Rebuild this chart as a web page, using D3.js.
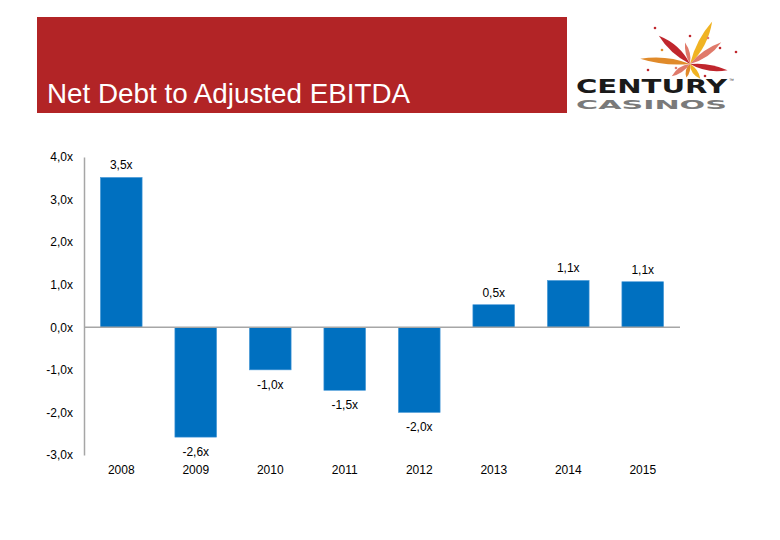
<!DOCTYPE html>
<html><head><meta charset="utf-8">
<script src="https://cdn.jsdelivr.net/npm/d3@7"></script>
<style>body{margin:0;background:#fff}svg{display:block;font-family:"Liberation Sans",Arial,sans-serif}</style>
</head><body><svg id="c" width="780" height="540"></svg>
<script>
const categories = ["2008","2009","2010","2011","2012","2013","2014","2015"];
const values = [3.52, -2.58, -1.0, -1.48, -2.0, 0.53, 1.1, 1.07];
const valueLabels = ["3,5x","-2,6x","-1,0x","-1,5x","-2,0x","0,5x","1,1x","1,1x"];
const tickValues = [4, 3, 2, 1, 0, -1, -2, -3];
const tickLabels = ["4,0x","3,0x","2,0x","1,0x","0,0x","-1,0x","-2,0x","-3,0x"];
const title = "Net Debt to Adjusted EBITDA";

const svg = d3.select("#c");
// header
svg.append("rect").attr("x",37).attr("y",17).attr("width",530).attr("height",96).attr("fill","#B22426");
svg.append("text").attr("x",47).attr("y",103).attr("fill","#fff").attr("font-size",27.8).text(title);

// logo
const logo = svg.append("g");
const cx = 690, cy = 64;
const strokes = [
  {a:-135,len:42,w:7,c:"#C0262D"},
  {a:-60,len:48,w:7,c:"#F0B323"},
  {a:-172,len:50,w:6,c:"#E08A2A"},
  {a:-32,len:38,w:6,c:"#E07A6A"},
  {a:12,len:38,w:6,c:"#C0262D"},
  {a:-100,len:22,w:4,c:"#E07A6A"},
  {a:150,len:22,w:5,c:"#E07A6A"},
  {a:60,len:18,w:5,c:"#F0B323"},
  {a:110,len:14,w:4,c:"#E08A2A"}
];
strokes.forEach(s=>{
  const L=s.len, w=s.w;
  const p = `M0,0 Q${L*0.5},${-w} ${L},${-w*0.3} Q${L*0.5},${w} 0,0 Z`;
  logo.append("path").attr("d",p).attr("fill",s.c)
    .attr("transform",`translate(${cx},${cy}) rotate(${s.a})`);
});
[[655,28,"#C0262D"],[708,38,"#E07A6A"],[720,48,"#C0262D"],[662,50,"#E08A2A"],[736,52,"#C0262D"],[690,36,"#C0262D"],[648,70,"#C0262D"],[676,68,"#E07A6A"],[705,76,"#C0262D"]].forEach(d=>{
  logo.append("circle").attr("cx",d[0]).attr("cy",d[1]).attr("r",1.3).attr("fill",d[2]);
});
logo.append("text").attr("x",576).attr("y",93).attr("font-size",19).attr("font-weight","bold")
  .attr("fill","#1a1a1a").attr("textLength",151).attr("lengthAdjust","spacingAndGlyphs").attr("font-family","'DejaVu Sans',sans-serif").text("CENTURY");
logo.append("text").attr("x",729).attr("y",82).attr("font-size",5).attr("fill","#333").text("™");
logo.append("text").attr("x",576).attr("y",109).attr("font-size",13).attr("font-weight","bold")
  .attr("fill","#7a7a7a").attr("textLength",151).attr("lengthAdjust","spacingAndGlyphs").attr("font-family","'DejaVu Sans',sans-serif").text("CASINOS");

// chart
const x = d3.scaleBand().domain(categories).range([84,680]).paddingInner(0.44).paddingOuter(0.22);
const y = d3.scaleLinear().domain([-3,4]).range([455,157]);

const axisColor = "#A6A6A6";
const yAxis = svg.append("g").attr("transform","translate(84,0)")
  .call(d3.axisLeft(y).tickValues(tickValues).tickSize(0).tickFormat((d,i)=>tickLabels[i]));
yAxis.select(".domain").attr("stroke",axisColor).attr("stroke-width",1.5);
yAxis.selectAll("text").attr("font-size",12).attr("fill","#000").attr("font-family","'Liberation Sans',Arial,sans-serif").attr("x",-11);

svg.selectAll("rect.bar").data(values).join("rect").attr("class","bar")
  .attr("x",(d,i)=>x(categories[i])).attr("width",x.bandwidth())
  .attr("y",d=>y(Math.max(0,d))).attr("height",d=>Math.abs(y(d)-y(0)))
  .attr("fill","#0070C0").attr("stroke","#4A9AD8").attr("stroke-width",0.6);

// zero line
svg.append("line").attr("x1",84).attr("x2",680).attr("y1",y(0)).attr("y2",y(0)).attr("stroke",axisColor).attr("stroke-width",1.5);

svg.selectAll("text.vl").data(values).join("text").attr("class","vl")
  .attr("x",(d,i)=>x(categories[i])+x.bandwidth()/2)
  .attr("y",d=> d>=0 ? y(d)-8 : y(d)+19)
  .attr("text-anchor","middle").attr("font-size",12).attr("fill","#000")
  .text((d,i)=>valueLabels[i]);

const xAxis = svg.append("g").attr("transform",`translate(0,${y(-3)})`)
  .call(d3.axisBottom(x).tickSize(0));
xAxis.select(".domain").remove();
xAxis.selectAll("text").attr("font-size",12).attr("fill","#000").attr("font-family","'Liberation Sans',Arial,sans-serif").attr("dy","1.3em");
</script></body></html>
